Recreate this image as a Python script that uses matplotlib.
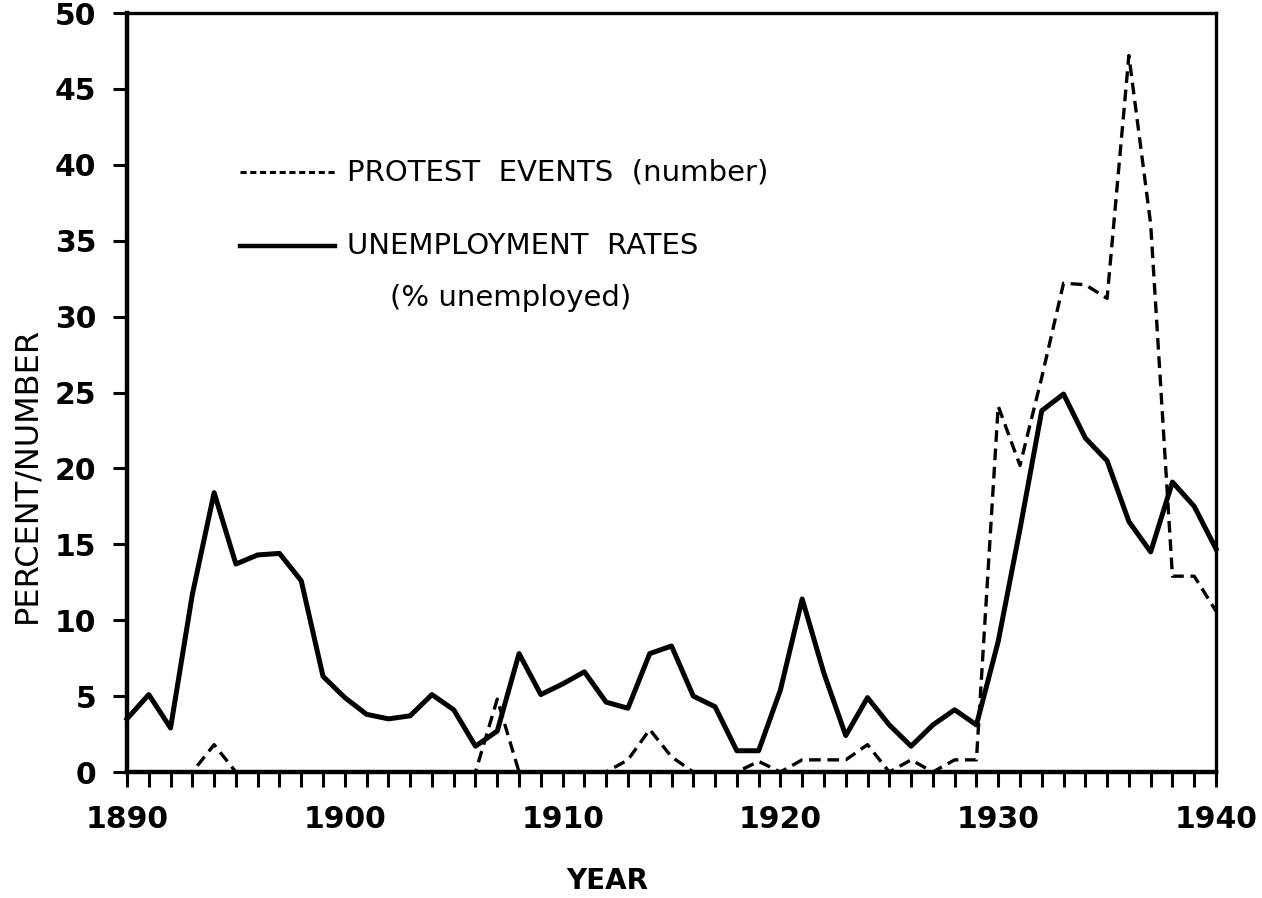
#!/usr/bin/env python3
"""
Protest events and unemployment rates, 1890-1940
"""
import matplotlib
matplotlib.use("Agg")
import matplotlib.pyplot as plt
from matplotlib.lines import Line2D

years = list(range(1890, 1941))
unemployment = [3.5, 5.1, 2.9, 11.7, 18.4, 13.7, 14.3, 14.4, 12.6, 6.3,
                4.9, 3.8, 3.5, 3.7, 5.1, 4.1, 1.7, 2.7, 7.8, 5.1,
                5.8, 6.6, 4.6, 4.2, 7.8, 8.3, 5.0, 4.3, 1.4, 1.4,
                5.4, 11.4, 6.5, 2.4, 4.9, 3.1, 1.7, 3.1, 4.1, 3.1,
                8.6, 16.0, 23.8, 24.9, 22.0, 20.5, 16.5, 14.5, 19.1, 17.5,
                14.7]
protests = [0, 0, 0, 0, 1.8, 0, 0, 0, 0, 0,
            0, 0, 0, 0, 0, 0, 0, 4.8, 0, 0,
            0, 0, 0, 0.8, 2.8, 1.0, 0, 0, 0, 0.7,
            0, 0.8, 0.8, 0.8, 1.8, 0, 0.8, 0, 0.8, 0.8,
            24.1, 20.2, 26.0, 32.2, 32.1, 31.2, 47.2, 36.1, 12.9, 12.9,
            10.6]
xticks = [1890, 1900, 1910, 1920, 1930, 1940]
yticks = list(range(0, 51, 5))

FONT = "DejaVu Sans"

fig = plt.figure(figsize=(12.62, 8.98), dpi=100)
W, H = 1262, 898
ax = fig.add_axes([127 / W, 1 - 772 / H, (1216 - 127) / W, (772 - 13) / H])

ax.plot(years, protests, color="black", lw=2.4, linestyle=(0, (3.5, 2)),
        clip_on=False)
ax.plot(years, unemployment, color="black", lw=3.6, clip_on=False)

ax.set_xlim(1890, 1940)
ax.set_ylim(0, 50)
ax.set_xticks(xticks)
ax.set_xticks(years, minor=True)
ax.set_yticks(yticks)
ax.tick_params(axis="x", which="both", direction="out", length=11, width=2.2,
               pad=13)
ax.tick_params(axis="y", direction="out", length=10, width=2.2, pad=12)
for lab in ax.get_xticklabels() + ax.get_yticklabels():
    lab.set_fontfamily(FONT)
    lab.set_fontweight("bold")
    lab.set_fontsize(21.5)

ax.spines["left"].set_linewidth(3.2)
ax.spines["bottom"].set_linewidth(3.2)
ax.spines["top"].set_linewidth(2.4)
ax.spines["right"].set_linewidth(2.4)

fig.text(27 / W, 1 - 475 / H, "PERCENT/NUMBER", rotation=90, ha="center",
         va="center", fontsize=23, family=FONT)
fig.text(607 / W, 1 - 881 / H, "YEAR", ha="center", va="center",
         fontsize=20, family=FONT, fontweight="bold")

# legend drawn by hand
fig.add_artist(Line2D([240 / W, 335 / W], [1 - 172 / H, 1 - 172 / H],
                      color="black", lw=2.2, linestyle=(0, (2, 1.2))))
fig.add_artist(Line2D([240 / W, 335 / W], [1 - 246 / H, 1 - 246 / H],
                      color="black", lw=3.2))
fig.text(347 / W, 1 - 172 / H, "PROTEST  EVENTS  (number)", ha="left",
         va="center", fontsize=21, family=FONT)
fig.text(347 / W, 1 - 246 / H, "UNEMPLOYMENT  RATES", ha="left",
         va="center", fontsize=21, family=FONT)
fig.text(390 / W, 1 - 298 / H, "(% unemployed)", ha="left",
         va="center", fontsize=21, family=FONT)

fig.savefig("out.png", dpi=100)
